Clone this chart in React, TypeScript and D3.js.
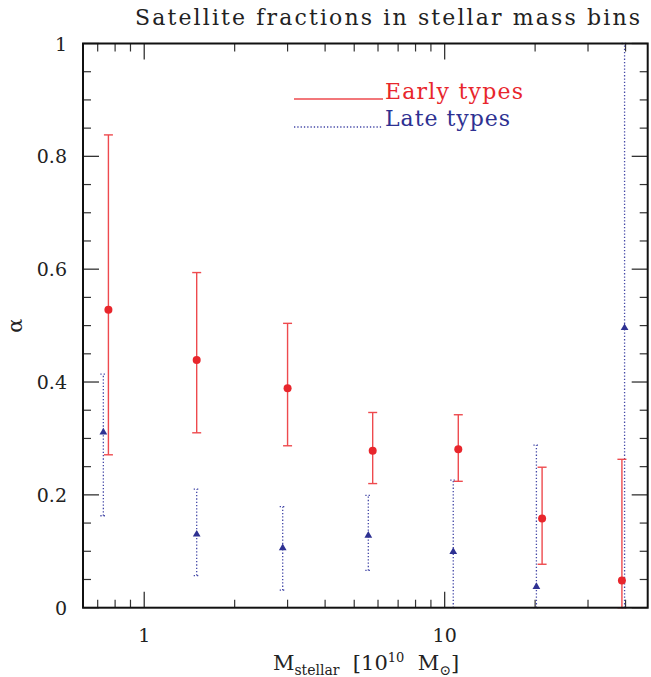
import React from 'react';
import * as d3 from 'd3';

// ---- Data ----
const earlyX = [0.76, 1.495, 3.0, 5.76, 11.1, 21.1, 38.9];
const earlyY = [0.528, 0.439, 0.389, 0.278, 0.281, 0.158, 0.048];
const earlyLo = [0.271, 0.31, 0.287, 0.22, 0.224, 0.077, 0.0];
const earlyHi = [0.838, 0.594, 0.504, 0.346, 0.342, 0.249, 0.263];

const lateX = [0.731, 1.495, 2.89, 5.57, 10.68, 20.2, 39.7];
const lateY = [0.311, 0.13, 0.106, 0.128, 0.099, 0.037, 0.496];
const lateLo = [0.163, 0.057, 0.031, 0.066, 0.0, 0.0, 0.0];
const lateHi = [0.414, 0.21, 0.179, 0.199, 0.226, 0.288, 1.0];

const xMajorTicks = [1, 10];
const xMinorTicks = [0.7, 0.8, 0.9, 2, 3, 4, 5, 6, 7, 8, 9, 20, 30, 40];
const yMajorTicks = [0, 0.2, 0.4, 0.6, 0.8, 1];
const yTickLabels = ['0', '0.2', '0.4', '0.6', '0.8', '1'];
const yMinorTicks = [0.05, 0.1, 0.15, 0.25, 0.3, 0.35, 0.45, 0.5, 0.55, 0.65, 0.7, 0.75, 0.85, 0.9, 0.95];

const titleText = 'Satellite fractions in stellar mass bins';
const legendEarly = 'Early types';
const legendLate = 'Late types';

const RED = '#e8262c';
const RED_LINE = '#ee4a4e';
const BLUE = '#2e3192';
const BLUE_LINE = '#4246a6';
const FONT = '"DejaVu Serif", serif';

export default function App() {
  const W = 651;
  const H = 677;
  const left = 83, right = 647.7, top = 43.5, bottom = 607.7;

  const x = d3.scaleLog().domain([0.6255, 47.4]).range([left, right]);
  const y = d3.scaleLinear().domain([0, 1]).range([bottom, top]);

  const majorLen = 16;
  const minorLen = 8;
  const tickColor = '#333';

  const tri = d3.symbol().type(d3.symbolTriangle).size(26)();

  return (
    <svg width={W} height={H} style={{ position: 'absolute', left: 0, top: 0, background: '#fff' }}>
      <rect x={0} y={0} width={W} height={H} fill="#fff" />

      {/* Title */}
      <text x={135} y={25} fontFamily={FONT} fontSize={22} fill="#222"
        textLength={505} lengthAdjust="spacing">{titleText}</text>

      {/* X ticks bottom and top */}
      {xMajorTicks.map((t) => (
        <g key={'xM' + t}>
          <line x1={x(t)} x2={x(t)} y1={bottom} y2={bottom - majorLen} stroke={tickColor} strokeWidth={1.3} />
          <line x1={x(t)} x2={x(t)} y1={top} y2={top + majorLen} stroke={tickColor} strokeWidth={1.3} />
          <text x={x(t)} y={642} textAnchor="middle" fontFamily={FONT} fontSize={19} fill="#222">{t}</text>
        </g>
      ))}
      {xMinorTicks.map((t) => (
        <g key={'xm' + t}>
          <line x1={x(t)} x2={x(t)} y1={bottom} y2={bottom - minorLen} stroke={tickColor} strokeWidth={1.2} />
          <line x1={x(t)} x2={x(t)} y1={top} y2={top + minorLen} stroke={tickColor} strokeWidth={1.2} />
        </g>
      ))}

      {/* Y ticks left and right */}
      {yMajorTicks.map((t, i) => (
        <g key={'yM' + t}>
          <line x1={left} x2={left + majorLen} y1={y(t)} y2={y(t)} stroke={tickColor} strokeWidth={1.3} />
          <line x1={right} x2={right - majorLen} y1={y(t)} y2={y(t)} stroke={tickColor} strokeWidth={1.3} />
          <text x={67} y={y(t) + 7} textAnchor="end" fontFamily={FONT} fontSize={19} fill="#222">{yTickLabels[i]}</text>
        </g>
      ))}
      {yMinorTicks.map((t) => (
        <g key={'ym' + t}>
          <line x1={left} x2={left + minorLen} y1={y(t)} y2={y(t)} stroke={tickColor} strokeWidth={1.2} />
          <line x1={right} x2={right - minorLen} y1={y(t)} y2={y(t)} stroke={tickColor} strokeWidth={1.2} />
        </g>
      ))}

      {/* Late types error bars (dotted) */}
      {lateX.map((v, i) => (
        <g key={'le' + i}>
          <line x1={x(v)} x2={x(v)} y1={y(lateLo[i])} y2={y(lateHi[i])} stroke={BLUE_LINE} strokeWidth={1.3} strokeDasharray="1.3 2" />
          <line x1={x(v) - 3} x2={x(v) + 3} y1={y(lateLo[i])} y2={y(lateLo[i])} stroke={BLUE_LINE} strokeWidth={1.3} strokeDasharray="1.3 2" />
          <line x1={x(v) - 3} x2={x(v) + 3} y1={y(lateHi[i])} y2={y(lateHi[i])} stroke={BLUE_LINE} strokeWidth={1.3} strokeDasharray="1.3 2" />
        </g>
      ))}

      {/* Early types error bars (solid) */}
      {earlyX.map((v, i) => (
        <g key={'ee' + i}>
          <line x1={x(v)} x2={x(v)} y1={y(earlyLo[i])} y2={y(earlyHi[i])} stroke={RED_LINE} strokeWidth={1.4} />
          <line x1={x(v) - 4.5} x2={x(v) + 4.5} y1={y(earlyLo[i])} y2={y(earlyLo[i])} stroke={RED_LINE} strokeWidth={1.4} />
          <line x1={x(v) - 4.5} x2={x(v) + 4.5} y1={y(earlyHi[i])} y2={y(earlyHi[i])} stroke={RED_LINE} strokeWidth={1.4} />
        </g>
      ))}

      {/* Markers */}
      {lateX.map((v, i) => (
        <path key={'lm' + i} d={tri!} transform={`translate(${x(v)},${y(lateY[i])})`} fill={BLUE} />
      ))}
      {earlyX.map((v, i) => (
        <circle key={'em' + i} cx={x(v)} cy={y(earlyY[i])} r={4} fill={RED} />
      ))}

      {/* Frame */}
      <rect x={left} y={top} width={right - left} height={bottom - top} fill="none" stroke="#111" strokeWidth={2} />

      {/* Legend */}
      <line x1={294} x2={383} y1={99} y2={99} stroke={RED_LINE} strokeWidth={1.4} />
      <text x={385} y={99} fontFamily={FONT} fontSize={22} fill={RED} textLength={138} lengthAdjust="spacing">{legendEarly}</text>
      <line x1={294} x2={383} y1={127} y2={127} stroke={BLUE_LINE} strokeWidth={1.3} strokeDasharray="1.3 2" />
      <text x={385} y={126} fontFamily={FONT} fontSize={22} fill={BLUE} textLength={125} lengthAdjust="spacing">{legendLate}</text>

      {/* Y axis label */}
      <text transform={`translate(22,${(top + bottom) / 2}) rotate(-90)`} textAnchor="middle" fontFamily={FONT} fontSize={21} fill="#222">α</text>

      {/* X axis label */}
      <text x={366} y={670} textAnchor="middle" fontFamily={FONT} fontSize={21} fill="#222">
        <tspan>M</tspan>
        <tspan fontSize={14} dy={5}>stellar</tspan>
        <tspan dy={-5}>{'\u00A0\u00A0[10'}</tspan>
        <tspan fontSize={13} dy={-8}>10</tspan>
        <tspan dy={8}>{'\u00A0\u00A0M'}</tspan>
        <tspan fontSize={14} dy={5}>⊙</tspan>
        <tspan dy={-5}>]</tspan>
      </text>
    </svg>
  );
}
